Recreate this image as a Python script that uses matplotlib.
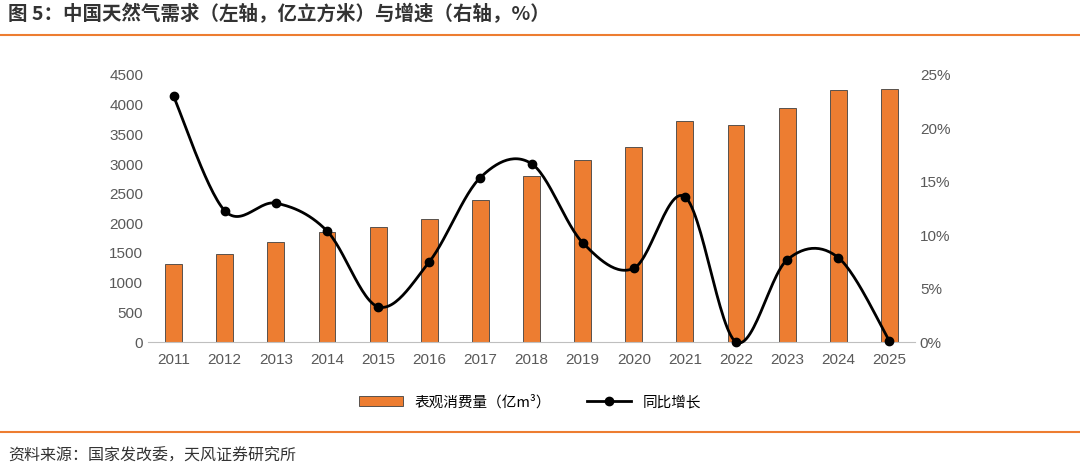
import matplotlib
matplotlib.use("Agg")
import matplotlib.pyplot as plt
import numpy as np
from matplotlib.lines import Line2D

plt.rcParams['font.family'] = ['Noto Sans CJK SC', 'DejaVu Sans']

years = ['2011','2012','2013','2014','2015','2016','2017','2018','2019','2020','2021','2022','2023','2024','2025']
consumption = [1320,1490,1690,1860,1930,2080,2400,2800,3060,3280,3720,3660,3940,4250,4270]
growth = [23.0,12.3,13.0,10.4,3.3,7.5,15.4,16.7,9.3,6.9,13.6,0.0,7.7,7.9,0.1]

W, H = 1080, 466
fig = plt.figure(figsize=(W/100, H/100), dpi=100)
orange = '#ED7D31'

fig.text(8/W, 1-14/H, '图 5：中国天然气需求（左轴，亿立方米）与增速（右轴，%）', fontsize=14,
         fontweight='bold', color='#333333', va='center')
fig.add_artist(Line2D([0, 1], [1-35/H]*2, color=orange, lw=1.5))
fig.add_artist(Line2D([0, 1], [1-432/H]*2, color=orange, lw=1.5))
fig.text(8/W, 1-456/H, '资料来源：国家发改委，天风证券研究所', fontsize=11.5, color='#333333', va='center')

ax = fig.add_axes([148/W, 1-342/H, (915-148)/W, (342-75)/H])
x = np.arange(len(years))
ax.bar(x, consumption, width=0.33, color=orange, edgecolor='#404040', linewidth=0.6)
ax.set_ylim(0, 4500)
ax.set_yticks(range(0, 4501, 500))
ax.set_xlim(-0.5, len(years)-0.5)
ax.set_xticks(x)
ax.set_xticklabels(years)
for s in ['top', 'right', 'left']:
    ax.spines[s].set_visible(False)
ax.spines['bottom'].set_color('#bfbfbf')
ax.tick_params(length=0, labelsize=11, colors='#595959')
ax.tick_params(axis='x', pad=8)

ax2 = ax.twinx()
ax2.set_ylim(0, 25)
ax2.set_yticks(range(0, 26, 5))
ax2.set_yticklabels([f'{v}%' for v in range(0, 26, 5)])
for s in ax2.spines.values():
    s.set_visible(False)
ax2.tick_params(length=0, labelsize=11, colors='#595959')
for lab in ax.get_xticklabels() + ax.get_yticklabels() + ax2.get_yticklabels():
    lab.set_fontfamily(['Liberation Sans', 'DejaVu Sans'])

# Catmull-Rom smoothing for display
g = np.array(growth, float)
px = np.concatenate([[x[0]], x, [x[-1]]]).astype(float)
py = np.concatenate([[g[0]], g, [g[-1]]])
sx, sy = [], []
t = np.linspace(0, 1, 30)
for i in range(1, len(px)-2):
    p0, p1, p2, p3 = py[i-1], py[i], py[i+1], py[i+2]
    q0, q1, q2, q3 = px[i-1], px[i], px[i+1], px[i+2]
    f = lambda a, b, c, d: 0.5*((2*b) + (-a+c)*t + (2*a-5*b+4*c-d)*t**2 + (-a+3*b-3*c+d)*t**3)
    sx.extend(f(q0, q1, q2, q3)); sy.extend(f(p0, p1, p2, p3))
ax2.plot(sx, sy, color='black', lw=2, clip_on=False)
ax2.plot(x, g, 'o', color='black', ms=6, clip_on=False)

handles = [plt.Rectangle((0, 0), 1, 1, facecolor=orange, edgecolor='#404040', lw=0.6),
           Line2D([], [], color='black', lw=2, marker='o', ms=6)]
fig.legend(handles, ['表观消费量（亿m³）', '同比增长'], loc='center', bbox_to_anchor=(530/W, 1-402/H),
           ncol=2, frameon=False, fontsize=10.5, handlelength=3, columnspacing=2.5)

fig.savefig('out.png', dpi=100)
